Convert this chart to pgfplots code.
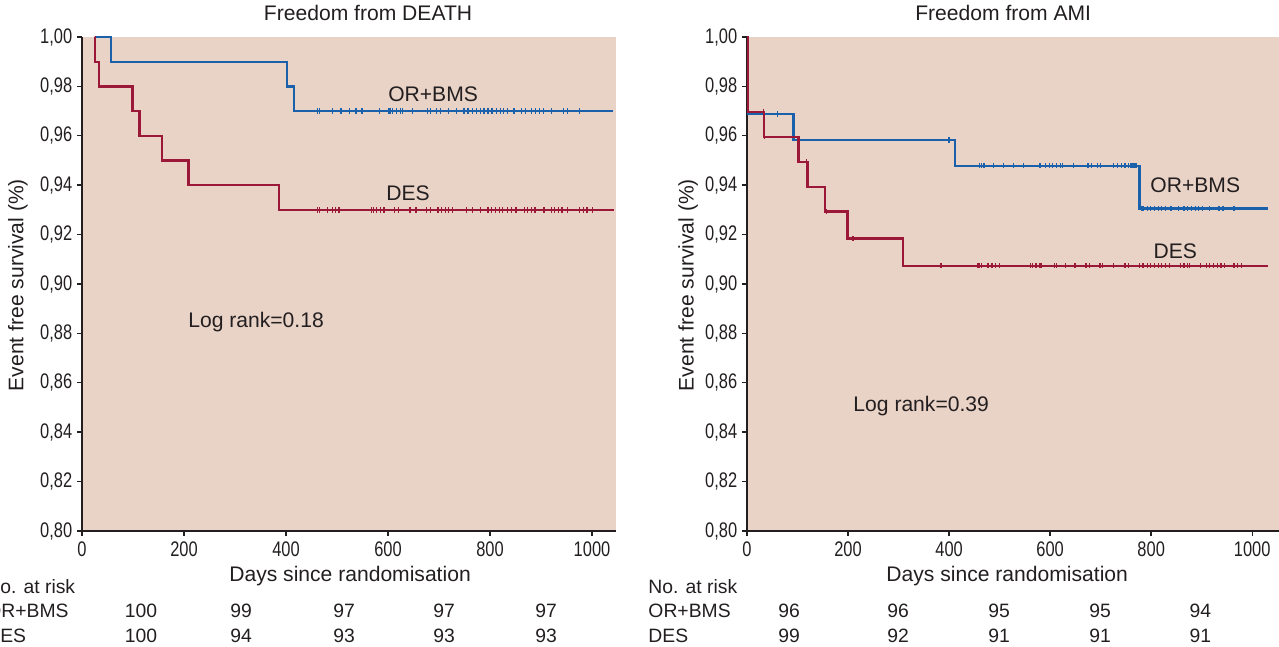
\documentclass[border=0pt]{standalone}
\usepackage{pgfplots}
\pgfplotsset{compat=1.18}
\usepackage{fontspec}
\setmainfont{Liberation Sans}

\definecolor{bgc}{RGB}{233,210,198}
\definecolor{kmblue}{RGB}{27,96,170}
\definecolor{kmred}{RGB}{155,24,57}
\definecolor{axc}{RGB}{35,31,32}

\pgfplotsset{
  km/.style={
    scale only axis,
    height=9.88cm,
    xmin=0, ymin=0.8, ymax=1.0,
    axis lines=left,
    axis line style={-, axc, line width=1.1pt},
    axis background/.style={fill=bgc},
    xtick={0,200,400,600,800,1000},
    ytick={0.8,0.82,0.84,0.86,0.88,0.9,0.92,0.94,0.96,0.98,1.0},
    tick style={axc, line width=0.8pt},
    tick align=outside,
    major tick length=0.1cm,
    /pgf/number format/assume math mode=true,
    ticklabel style={font=\fontsize{12}{14}\selectfont, xscale=0.78, text=axc},
    xticklabel style={/pgf/number format/1000 sep={}},
    yticklabel style={/pgf/number format/.cd, fixed, fixed zerofill, precision=2, use comma},
    clip=false,
  },
  steps/.style={const plot, no marks, line width=1.3pt},
  cens/.style={only marks, mark=|, mark size=1.5pt, mark options={line width=0.7pt}},
}

\begin{document}
\begin{tikzpicture}

% ---- left panel: freedom from death
\begin{axis}[km, at={(1.64cm,2.32cm)}, width=10.68cm, xmax=1047]
\addplot[steps, kmblue] coordinates {(25,1.00) (57,0.99) (402,0.98) (416,0.97) (1041,0.97)};
\addplot[cens, kmblue] coordinates {
(461,0.97) (465,0.97) (491,0.97) (508,0.97) (524,0.97) (537,0.97) (549,0.97) (584,0.97)
(602,0.97) (605,0.97) (609,0.97) (617,0.97) (625,0.97) (629,0.97) (648,0.97) (678,0.97)
(683,0.97) (695,0.97) (703,0.97) (718,0.97) (734,0.97) (749,0.97) (757,0.97) (765,0.97)
(773,0.97) (781,0.97) (788,0.97) (796,0.97) (804,0.97) (812,0.97) (820,0.97) (827,0.97)
(835,0.97) (847,0.97) (862,0.97) (870,0.97) (882,0.97) (889,0.97) (897,0.97) (905,0.97)
(921,0.97) (944,0.97) (952,0.97) (975,0.97)};
\addplot[steps, kmred] coordinates {(25,1.00) (26,0.99) (33,0.98) (99,0.97) (113,0.96) (157,0.95) (209,0.94) (386,0.93) (1043,0.93)};
\addplot[cens, kmred] coordinates {
(461,0.93) (465,0.93) (482,0.93) (491,0.93) (497,0.93) (504,0.93) (567,0.93) (571,0.93)
(578,0.93) (585,0.93) (592,0.93) (613,0.93) (620,0.93) (643,0.93) (655,0.93) (676,0.93)
(684,0.93) (698,0.93) (705,0.93) (712,0.93) (719,0.93) (726,0.93) (754,0.93) (765,0.93)
(782,0.93) (796,0.93) (803,0.93) (811,0.93) (818,0.93) (825,0.93) (835,0.93) (842,0.93)
(851,0.93) (867,0.93) (874,0.93) (881,0.93) (888,0.93) (906,0.93) (920,0.93) (927,0.93)
(934,0.93) (941,0.93) (952,0.93) (976,0.93) (983,0.93) (990,0.93) (1001,0.93)};
\end{axis}

% ---- right panel: freedom from AMI
\begin{axis}[km, at={(14.94cm,2.32cm)}, width=10.64cm, xmax=1053]
\addplot[steps, kmblue] coordinates {(0,1.0) (2,0.9688) (92,0.9583) (411,0.9479) (777,0.9306) (1031,0.9306)};
\addplot[cens, kmblue] coordinates {
(60,0.9688) (400,0.9583)
(460,0.9479) (464,0.9479) (469,0.9479) (488,0.9479) (507,0.9479) (528,0.9479) (547,0.9479)
(580,0.9479) (591,0.9479) (598,0.9479) (605,0.9479) (613,0.9479) (620,0.9479) (624,0.9479)
(646,0.9479) (675,0.9479) (682,0.9479) (693,0.9479) (700,0.9479) (726,0.9479) (733,0.9479)
(741,0.9479) (748,0.9479) (755,0.9479) (759,0.9479) (762,0.9479) (766,0.9479) (770,0.9479)
(781,0.9306) (784,0.9306) (792,0.9306) (799,0.9306) (806,0.9306) (814,0.9306) (821,0.9306)
(828,0.9306) (839,0.9306) (854,0.9306) (865,0.9306) (872,0.9306) (880,0.9306) (887,0.9306)
(894,0.9306) (902,0.9306) (916,0.9306) (934,0.9306) (942,0.9306) (964,0.9306)};
\addplot[steps, kmred] coordinates {(0,1.0) (2,0.9697) (33,0.9596) (102,0.9495) (120,0.9394) (154,0.9293) (199,0.9184) (309,0.9074) (1031,0.9074)};
\addplot[cens, kmred] coordinates {
(32,0.9697) (35,0.9596) (118,0.9495) (157,0.9293) (210,0.9184)
(384,0.9074) (457,0.9074) (460,0.9074) (464,0.9074) (477,0.9074) (485,0.9074) (492,0.9074)
(499,0.9074) (561,0.9074) (565,0.9074) (572,0.9074) (580,0.9074) (583,0.9074) (609,0.9074)
(613,0.9074) (631,0.9074) (649,0.9074) (671,0.9074) (678,0.9074) (697,0.9074) (700,0.9074)
(704,0.9074) (726,0.9074) (748,0.9074) (755,0.9074) (777,0.9074) (784,0.9074) (792,0.9074)
(799,0.9074) (806,0.9074) (814,0.9074) (821,0.9074) (828,0.9074) (836,0.9074) (858,0.9074)
(865,0.9074) (872,0.9074) (876,0.9074) (898,0.9074) (909,0.9074) (916,0.9074) (923,0.9074)
(931,0.9074) (938,0.9074) (945,0.9074) (964,0.9074) (971,0.9074) (978,0.9074)};
\end{axis}

% ---- texts, placed in reference pixel coordinates (origin top left)
\begin{scope}[x=0.02cm, y=-0.02cm, shift={(0,12.94cm)},
  every node/.style={font=\fontsize{12}{14}\selectfont, text=axc, inner sep=0pt}]
\node at (368,13) {Freedom from DEATH};
\node at (1003,13) {Freedom from AMI};
\node at (433,94) {OR+BMS};
\node at (408,193) {DES};
\node at (256,322) {Log rank=0.18};
\node at (1195,185) {OR+BMS};
\node at (1175,251) {DES};
\node at (921,406) {Log rank=0.39};
\node[rotate=90] at (18,285) {Event free survival (\%)};
\node[rotate=90] at (688,285) {Event free survival (\%)};
\node at (350,576) {Days since randomisation};
\node at (1007,576) {Days since randomisation};
% number at risk tables (the left one runs past the page edge, as in the source)
\begin{scope}[every node/.append style={font=\fontsize{11}{13}\selectfont}]
\foreach \x in {-14, 648} {
  \node[anchor=west] at (\x,586) {No. at risk};
  \node[anchor=west] at (\x,611) {OR+BMS};
  \node[anchor=west] at (\x,636) {DES};
}
\foreach \x/\a/\b in {141/100/100, 241/99/94, 344/97/93, 444/97/93, 546/97/93} {
  \node at (\x,611) {\a};
  \node at (\x,636) {\b};
}
\foreach \x/\a/\b in {789/96/99, 898/96/92, 999/95/91, 1100/95/91, 1200/94/91} {
  \node at (\x,611) {\a};
  \node at (\x,636) {\b};
}
\end{scope}
\end{scope}

\pgfresetboundingbox
\path[use as bounding box] (0,0) rectangle (25.58cm,12.94cm);
\end{tikzpicture}
\end{document}
